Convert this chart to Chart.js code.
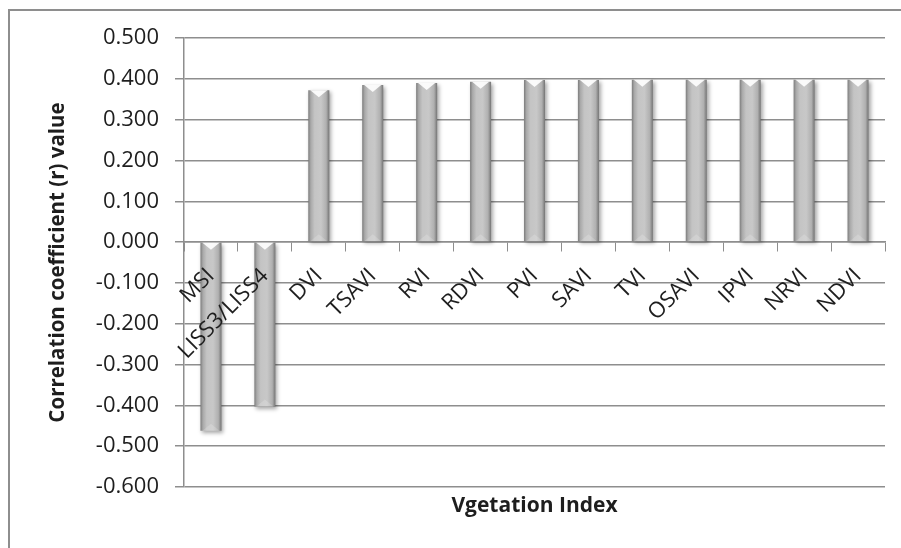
<!DOCTYPE html>
<html>
<head>
<meta charset="utf-8">
<script src="https://cdn.jsdelivr.net/npm/chart.js@4/dist/chart.umd.min.js"></script>
<style>
  html, body { margin: 0; padding: 0; background: #fff; }
  #wrap { position: relative; width: 901px; height: 548px; overflow: hidden; }
  #frame { position: absolute; left: 8px; top: 9px; width: 1000px; height: 1000px;
           border-left: 2px solid #8e8e8e; border-top: 2px solid #8e8e8e; }
  canvas { position: absolute; left: 0; top: 0; }
</style>
</head>
<body>
<div id="wrap">
  <div id="frame"></div>
  <canvas id="chart" width="901" height="548"></canvas>
</div>
<script>
// vegetation indices, in the order shown
const categories = ['MSI', 'LISS3/LISS4', 'DVI', 'TSAVI', 'RVI', 'RDVI', 'PVI',
                    'SAVI', 'TVI', 'OSAVI', 'IPVI', 'NRVI', 'NDVI'];
// correlation coefficient (r)
const rValues = [-0.462, -0.403, 0.372, 0.385, 0.390, 0.393, 0.397,
                 0.397, 0.398, 0.398, 0.398, 0.398, 0.398];
const yMin = -0.6, yMax = 0.5, yStep = 0.1;

const BAR_PCT = 0.39;
const gridColor = '#8e8e8e';
const textColor = '#1e1e1e';

// horizontal grey gradient so each bar looks like a rounded column
function barFill(c) {
  const chart = c.chart;
  const xs = chart.scales && chart.scales.x;
  if (!xs || c.dataIndex === undefined || !xs.width) return '#c2c2c2';
  const cx = xs.getPixelForValue(c.dataIndex);
  const w = xs.width / categories.length * BAR_PCT;
  const g = chart.ctx.createLinearGradient(cx - w / 2, 0, cx + w / 2, 0);
  g.addColorStop(0, '#7c7c7c');
  g.addColorStop(0.12, '#a9a9a9');
  g.addColorStop(0.3, '#c4c4c4');
  g.addColorStop(0.6, '#c8c8c8');
  g.addColorStop(0.85, '#b0b0b0');
  g.addColorStop(1, '#747474');
  return g;
}

// soft drop shadow + bevel notch on the bars
const bevel = {
  id: 'bevel',
  beforeDatasetsDraw(chart) {
    const ctx = chart.ctx;
    ctx.save();
    ctx.shadowColor = 'rgba(0,0,0,0.35)';
    ctx.shadowBlur = 4;
    ctx.shadowOffsetX = 2;
    ctx.shadowOffsetY = 2;
  },
  afterDatasetsDraw(chart) {
    const ctx = chart.ctx;
    ctx.restore();
    const meta = chart.getDatasetMeta(0);
    ctx.save();
    meta.data.forEach(el => {
      const top = Math.min(el.y, el.base);
      const bot = Math.max(el.y, el.base);
      const l = el.x - el.width / 2 + 2, r = el.x + el.width / 2 - 2;
      ctx.fillStyle = 'rgba(255,255,255,0.9)';
      ctx.beginPath();
      ctx.moveTo(l, top); ctx.lineTo(r, top); ctx.lineTo(el.x, top + 7);
      ctx.closePath(); ctx.fill();
      ctx.fillStyle = 'rgba(255,255,255,0.18)';
      ctx.beginPath();
      ctx.moveTo(l, bot); ctx.lineTo(r, bot); ctx.lineTo(el.x, bot - 7);
      ctx.closePath(); ctx.fill();
    });
    ctx.restore();
  }
};

new Chart(document.getElementById('chart'), {
  type: 'bar',
  data: {
    labels: categories,
    datasets: [{
      data: rValues,
      backgroundColor: barFill,
      borderWidth: 0,
      barPercentage: BAR_PCT,
      categoryPercentage: 1
    }]
  },
  options: {
    responsive: false,
    animation: false,
    layout: { padding: { left: 0, right: 16, top: 38, bottom: 0 } },
    plugins: { legend: { display: false }, tooltip: { enabled: false } },
    scales: {
      x: {
        position: { y: 0 },
        grid: { drawOnChartArea: false, drawTicks: true, tickLength: 9, color: gridColor, offset: true },
        border: { color: gridColor, width: 1.5 },
        ticks: {
          z: 1,
          minRotation: 45, maxRotation: 45, padding: 12, autoSkip: false,
          color: textColor, font: { family: 'Open Sans', size: 22 }
        }
      },
      x2: {
        type: 'category',
        position: 'bottom',
        grid: { display: false },
        border: { display: false },
        ticks: { display: false },
        title: {
          display: true, text: 'Vgetation Index', color: textColor,
          font: { family: 'Open Sans', size: 21, weight: 'bold' },
          padding: { top: 0, bottom: 29 }
        },
        afterFit: s => { s.height = 61; }
      },
      y: {
        min: yMin, max: yMax,
        grid: { color: gridColor, lineWidth: 1.5, tickLength: 9 },
        border: { color: gridColor, width: 1.5 },
        ticks: {
          stepSize: yStep, padding: 16, color: textColor,
          font: { family: 'Open Sans', size: 22 },
          callback: v => Number(v).toFixed(3)
        },
        title: {
          display: true, text: 'Correlation coefficient (r) value', color: textColor,
          font: { family: 'Open Sans', size: 20.5, weight: 'bold' },
          padding: { top: 46, bottom: 0 }
        },
        afterFit: s => { s.width = 184; }
      }
    }
  },
  plugins: [bevel]
});
</script>
</body>
</html>
